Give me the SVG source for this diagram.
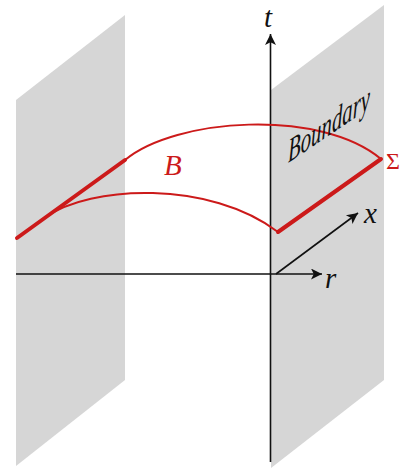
<svg xmlns="http://www.w3.org/2000/svg" width="402" height="470" viewBox="0 0 402 470">
<defs>
<style>
.plane{fill:#d6d6d6;stroke:none}
.axis{stroke:#111;stroke-width:1.6;fill:none}
.red{stroke:#cc1a1a;fill:none;stroke-linecap:round;stroke-linejoin:round}
.thin{stroke-width:2}
.thick{stroke-width:4}
.lbl{font-family:"Liberation Serif","DejaVu Serif",serif;font-style:italic;fill:#111}
.rlbl{font-family:"Liberation Serif","DejaVu Serif",serif;fill:#cc1a1a}
</style>
<marker id="ahb" viewBox="0 0 10 10" refX="10" refY="5" markerWidth="14" markerHeight="11" markerUnits="userSpaceOnUse" orient="auto">
<path d="M0,0 L10,5 L0,10 L2.5,5 Z" fill="#111"/>
</marker>
</defs>
<g id="left-plane"><polygon class="plane" points="16,100 125,15 125,380 16,466"/></g>
<g id="right-plane"><polygon class="plane" points="271,90 384,5 384,380 271,468"/></g>
<g id="connectors">
<line class="axis" x1="270.5" y1="462" x2="270.5" y2="34" marker-end="url(#ahb)"/>
<line class="axis" x1="16" y1="274" x2="322" y2="274" marker-end="url(#ahb)"/>
<line class="axis" x1="276" y1="274" x2="358" y2="213" marker-end="url(#ahb)"/>
</g>
<g id="surface-B">
<path class="red thin" d="M125,160 C175,118 320,108 381,159"/>
<path class="red thin" d="M45,217.5 C90,185 210,180 278,232"/>
<path class="red thick" d="M17,238 L125,160"/>
<path class="red thick" d="M278,232 L381,159"/>
</g>
<g id="labels">
<text class="lbl" x="268" y="27" font-size="29" text-anchor="middle">t</text>
<text class="lbl" x="325" y="288" font-size="29">r</text>
<text class="lbl" x="364" y="223" font-size="29">x</text>
<text class="lbl" font-size="29" x="164" y="175" style="fill:#cc1a1a">B</text>
<text class="rlbl" x="386" y="169" font-size="24">Σ</text>
<text class="lbl" font-size="26" transform="translate(288,163) skewY(-34) scale(0.8,1.3)">Boundary</text>
</g>
</svg>
